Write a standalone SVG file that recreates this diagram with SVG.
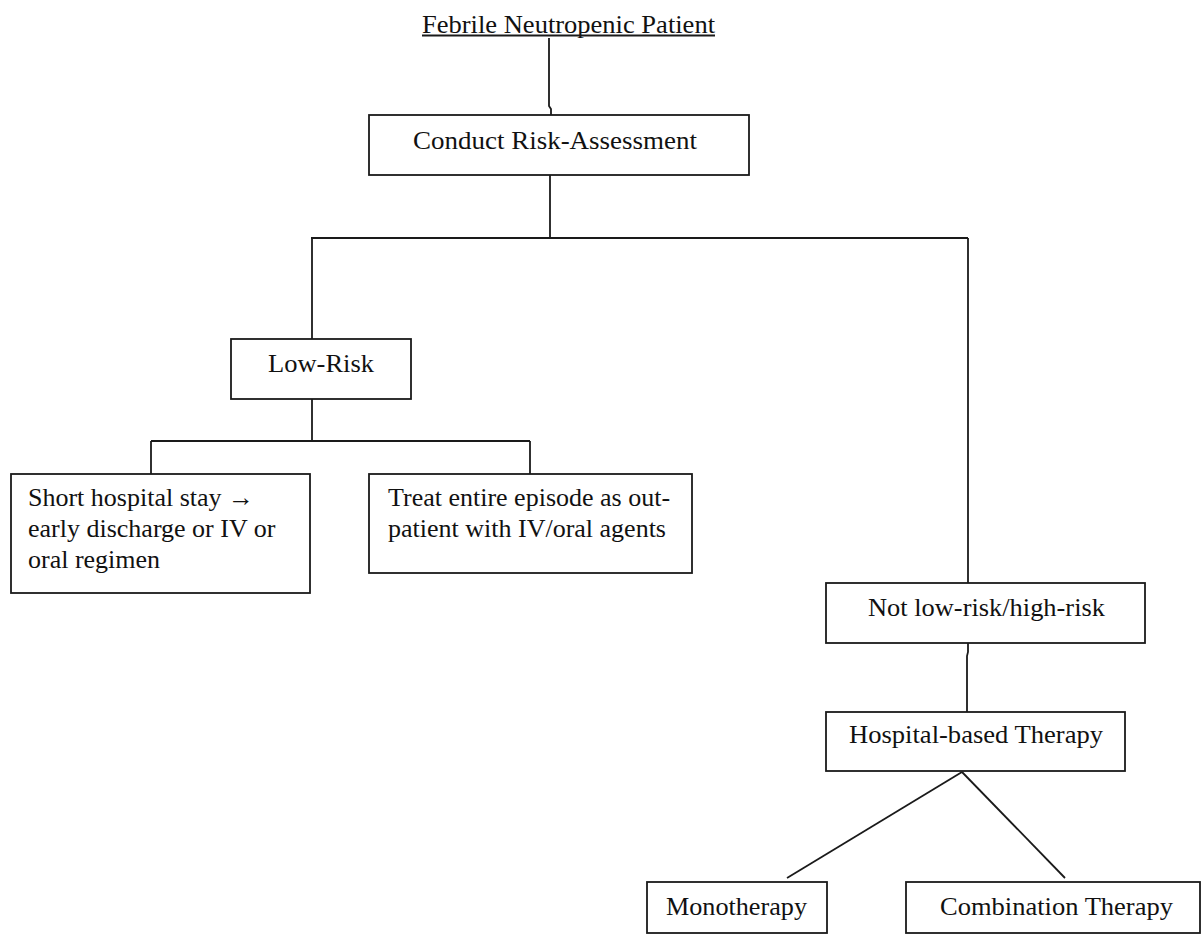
<svg xmlns="http://www.w3.org/2000/svg" width="1202" height="934" viewBox="0 0 1202 934">
<style>
  .box { fill: #ffffff; stroke: #1a1a1a; stroke-width: 1.8; }
  .ln { fill: none; stroke: #1a1a1a; stroke-width: 1.8; }
  .t { font-family: "Liberation Serif", "Times New Roman", serif; font-size: 26px; fill: #111111; }
</style>
<rect width="1202" height="934" fill="#ffffff"/>
<g id="connectors">
  <path class="ln" d="M549,38 L549,106 L551,109 L551,115"/>
  <path class="ln" d="M550,175 L550,238"/>
  <path class="ln" d="M311,238 L968,238"/>
  <path class="ln" d="M312,238 L312,339"/>
  <path class="ln" d="M968,238 L968,583"/>
  <path class="ln" d="M312,399 L312,441"/>
  <path class="ln" d="M151,441 L530,441"/>
  <path class="ln" d="M151,441 L151,474"/>
  <path class="ln" d="M530,441 L530,474"/>
  <path class="ln" d="M968,643 L968,652 L967,656 L967,712"/>
  <path class="ln" d="M962,772 L787,878"/>
  <path class="ln" d="M962,772 L1065,878"/>
</g>
<g id="title">
  <text class="t" x="422" y="33" textLength="293" lengthAdjust="spacingAndGlyphs">Febrile Neutropenic Patient</text>
  <line class="ln" x1="422" y1="35.5" x2="715" y2="35.5" stroke-width="1.2"/>
</g>
<g id="conduct">
  <rect class="box" x="369" y="115" width="380" height="60"/>
  <text class="t" x="413" y="149" textLength="284" lengthAdjust="spacingAndGlyphs">Conduct Risk-Assessment</text>
</g>
<g id="lowrisk">
  <rect class="box" x="231" y="339" width="180" height="60"/>
  <text class="t" x="268" y="372" textLength="106" lengthAdjust="spacingAndGlyphs">Low-Risk</text>
</g>
<g id="shortstay">
  <rect class="box" x="11" y="474" width="299" height="119"/>
  <text class="t" x="28" y="506">Short hospital stay →</text>
  <text class="t" x="28" y="537">early discharge or IV or</text>
  <text class="t" x="28" y="568">oral regimen</text>
</g>
<g id="outpatient">
  <rect class="box" x="369" y="474" width="323" height="99"/>
  <text class="t" x="388" y="506">Treat entire episode as out-</text>
  <text class="t" x="388" y="537">patient with IV/oral agents</text>
</g>
<g id="highrisk">
  <rect class="box" x="826" y="583" width="319" height="60"/>
  <text class="t" x="868" y="616" textLength="237" lengthAdjust="spacingAndGlyphs">Not low-risk/high-risk</text>
</g>
<g id="hospital">
  <rect class="box" x="826" y="712" width="299" height="59"/>
  <text class="t" x="849" y="743" textLength="254" lengthAdjust="spacingAndGlyphs">Hospital-based Therapy</text>
</g>
<g id="mono">
  <rect class="box" x="647" y="882" width="180" height="51"/>
  <text class="t" x="666" y="915" textLength="141" lengthAdjust="spacingAndGlyphs">Monotherapy</text>
</g>
<g id="combo">
  <rect class="box" x="906" y="882" width="294" height="51"/>
  <text class="t" x="940" y="915" textLength="233" lengthAdjust="spacingAndGlyphs">Combination Therapy</text>
</g>
</svg>
